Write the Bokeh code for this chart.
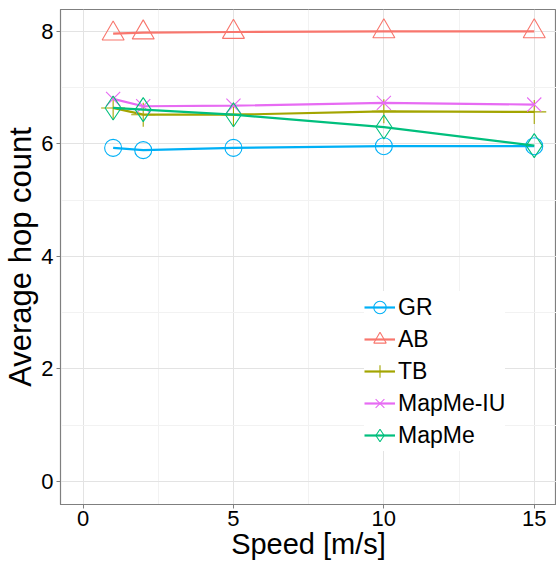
from bokeh.plotting import figure
from bokeh.models import Range1d, FixedTicker, Legend, LegendItem
from bokeh.embed import file_html
from bokeh.resources import INLINE

speed = [1, 2, 5, 10, 15]
gr = [5.93, 5.89, 5.93, 5.96, 5.96]
ab = [7.96, 7.98, 7.99, 8.00, 8.00]
tb = [6.64, 6.52, 6.52, 6.58, 6.57]
mapme_iu = [6.80, 6.67, 6.68, 6.73, 6.70]
mapme = [6.64, 6.61, 6.52, 6.30, 5.97]

series = [
    ("GR", gr, "#00B0F6", "circle", 17),
    ("AB", ab, "#F8766D", "triangle", 22),
    ("TB", tb, "#A3A500", "cross", 24),
    ("MapMe-IU", mapme_iu, "#E76BF3", "x", 20),
    ("MapMe", mapme, "#00BF7D", "diamond", 24),
]

FONT = "Liberation Sans"

p = figure(width=556, height=563, output_backend="svg", toolbar_location=None,
           x_range=Range1d(-0.75, 15.74), y_range=Range1d(-0.41, 8.39),
           min_border_left=58, min_border_right=0, min_border_top=9, min_border_bottom=59)

p.outline_line_color = "#7f7f7f"
p.outline_line_width = 1.2
p.background_fill_color = "white"

p.xaxis.ticker = FixedTicker(ticks=[0, 5, 10, 15], minor_ticks=[2.5, 7.5, 12.5])
p.yaxis.ticker = FixedTicker(ticks=[0, 2, 4, 6, 8], minor_ticks=[1, 3, 5, 7])

for ax in (p.xaxis, p.yaxis):
    ax.axis_line_color = "#7f7f7f"
    ax.major_tick_line_color = "#7f7f7f"
    ax.major_tick_out = 4
    ax.major_tick_in = 0
    ax.minor_tick_line_color = None
    ax.major_label_text_font = FONT
    ax.major_label_text_font_size = "22px"
    ax.major_label_text_color = "black"
    ax.axis_label_text_font = FONT
    ax.axis_label_text_font_style = "normal"
    ax.axis_label_text_color = "black"

p.xaxis.axis_label = "Speed [m/s]"
p.yaxis.axis_label = "Average hop count"
p.xaxis.axis_label_text_font_size = "29px"
p.yaxis.axis_label_text_font_size = "31px"
p.xaxis.major_label_standoff = 2
p.yaxis.major_label_standoff = 3
p.xaxis.axis_label_standoff = -1
p.yaxis.axis_label_standoff = 0

p.grid.grid_line_color = "#e3e3e3"
p.grid.grid_line_width = 1
p.grid.minor_grid_line_color = "#f2f2f2"
p.grid.minor_grid_line_width = 1

items = []
for name, vals, color, marker, size in series:
    m = p.scatter(speed, vals, marker=marker, size=size, fill_color=None,
                  line_color=color, line_width=1.1)
    l = p.line(speed, vals, line_color=color, line_width=2.2)
    items.append(LegendItem(label=name, renderers=[l, m]))

legend = Legend(items=items, location=(304, 53))
legend.label_text_font = FONT
legend.label_text_font_size = "23px"
legend.label_text_color = "black"
legend.glyph_width = 31
legend.glyph_height = 32
legend.label_height = 32
legend.label_standoff = 3
legend.spacing = 0
legend.padding = 0
legend.margin = 0
legend.border_line_color = None
legend.background_fill_color = "white"
legend.background_fill_alpha = 1
p.add_layout(legend, "center")

open("out.html", "w").write(file_html(p, INLINE))
